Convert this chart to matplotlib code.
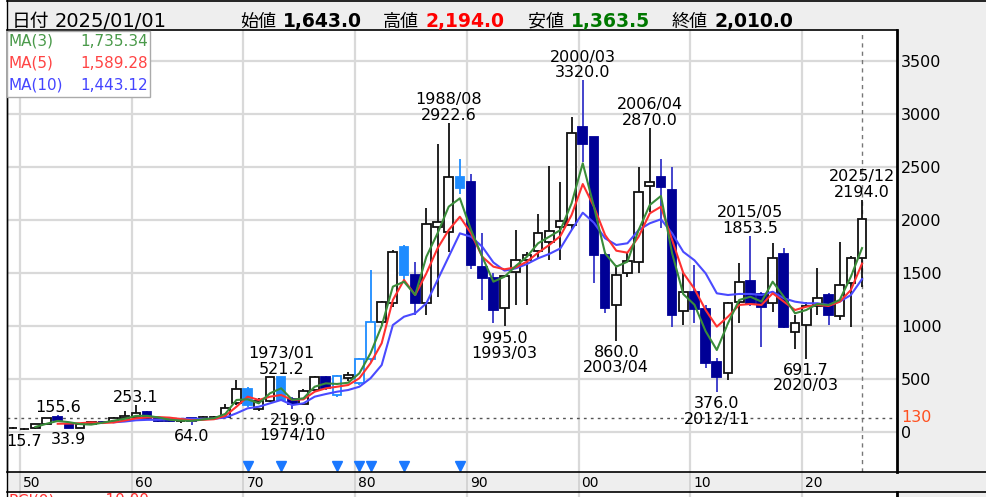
import numpy as np
import matplotlib.pyplot as plt
from matplotlib.lines import Line2D
from matplotlib.patches import Rectangle
from matplotlib.transforms import offset_copy, blended_transform_factory

plt.rcParams['font.family'] = ['DejaVu Sans', 'Noto Sans CJK JP']

nan = np.nan
years = np.arange(1949, 2026)

# yearly OHLC
opens = [35, 25, 32, 70, 136, 70, 36, 70, 95, 95,
         127, 142, 183, 127, 115, 100, 127, 117, 130, 142,
         268, 400, 212, 293, 521, 306, 262, 394, 514, 347,
         505, 457, 684, 1040, 1214, 1743, 1481, 1214, 1932, 1890,
         2410, 2357, 1560, 1450, 1166, 1507, 1623, 1711, 1796, 1938,
         1954, 2883, 2783, 1670, 1198, 1497, 1607, 2322, 2404, 2285,
         1144, 1323, 1157, 662, 552, 1229, 1424, 1302, 1214, 1677,
         945, 1008, 1188, 1292, 1096, 1403, 1643]
highs = [40, 35, 75, 130, 155.6, 80, 75, 100, 105, 135,
         196, 253.1, 200, 140, 140, 115, 130, 150, 150, 260,
         489, 420, 320, 520, 521.2, 330, 400, 530, 530, 540,
         560, 700, 1528, 1240, 1720, 1760, 1607, 2117, 2719, 2922.6,
         2575, 2433, 1875, 1500, 1480, 1906, 1700, 2055, 2511, 2363,
         2972, 3320, 2790, 1700, 1576, 1700, 2505, 2870, 2575, 2499,
         1500, 1576, 1200, 700, 1230, 1592, 1853.5, 1320, 1781, 1733,
         1100, 1230, 1544, 1310, 1796, 1660, 2194]
lows = [30, 15.7, 30, 65, 100, 33.9, 34, 65, 80, 90,
        120, 135, 115, 95, 90, 85, 64, 110, 120, 135,
        250, 230, 200, 280, 290, 219, 250, 380, 395, 330,
        480, 440, 660, 1000, 1180, 1403, 1103, 1103, 1276, 1700,
        2250, 1535, 1245, 1025, 995, 1198, 1198, 1632, 1623, 1623,
        1906, 2552, 1403, 1119, 860, 1465, 1497, 2079, 1922, 993,
        1008, 1025, 600, 376, 489, 1025, 1190, 803, 1134, 977,
        779, 691.7, 1100, 1008, 1060, 993, 1363.5]
closes = [38, 30, 70, 127, 110, 36, 70, 95, 90, 127,
          148, 174, 127, 105, 100, 105, 100, 142, 142, 221,
          400, 252, 293, 514, 300, 262, 388, 514, 410, 526,
          535, 684, 1040, 1229, 1701, 1481, 1214, 1963, 1985, 2410,
          2300, 1576, 1450, 1150, 1472, 1623, 1670, 1875, 1900, 1991,
          2826, 2719, 1670, 1166, 1481, 1616, 2263, 2363, 2310, 1103,
          1318, 1157, 647, 520, 1214, 1418, 1219, 1182, 1645, 987,
          1025, 1188, 1261, 1103, 1387, 1645, 2010]

ma3 = [nan, nan, 45, 75, 102, 90, 72, 67, 85, 104,
       122, 150, 150, 135, 113, 105, 102, 116, 128, 168,
       300, 306, 268, 363, 410, 300, 316, 425, 457, 451,
       463, 552, 741, 1000, 1371, 1418, 1292, 1654, 1875, 2127,
       2206, 1906, 1654, 1418, 1465, 1566, 1654, 1781, 1843, 1906,
       2159, 2537, 2127, 1686, 1560, 1607, 1906, 2143, 2228, 1686,
       1300, 1200, 950, 772, 1025, 1245, 1276, 1229, 1418, 1276,
       1119, 1150, 1207, 1198, 1245, 1465, 1735.34]
ma5 = [nan, nan, nan, nan, 75, 77, 80, 88, 82, 87,
       106, 126, 135, 138, 133, 120, 108, 112, 118, 150,
       236, 331, 300, 331, 347, 300, 306, 378, 410, 425,
       441, 505, 647, 836, 1245, 1434, 1292, 1497, 1733, 1906,
       2032, 1875, 1654, 1560, 1535, 1554, 1607, 1692, 1765, 1850,
       2048, 2341, 2127, 1859, 1711, 1692, 1843, 2064, 2127, 1812,
       1500, 1350, 1150, 993, 1087, 1198, 1207, 1198, 1308, 1229,
       1150, 1181, 1200, 1188, 1229, 1339, 1589.28]
ma10 = [nan, nan, nan, nan, nan, nan, nan, nan, nan, 89,
        96, 108, 112, 113, 117, 121, 122, 122, 123, 133,
        174, 221, 236, 268, 300, 252, 268, 331, 356, 378,
        394, 425, 505, 630, 1008, 1087, 1119, 1214, 1434, 1654,
        1875, 1843, 1749, 1600, 1522, 1544, 1585, 1639, 1680, 1733,
        1906, 2070, 1975, 1828, 1765, 1781, 1906, 1970, 2008, 1875,
        1700, 1620, 1497, 1308, 1292, 1302, 1302, 1292, 1323, 1261,
        1229, 1214, 1214, 1198, 1229, 1292, 1443.12]

# years marked with a triangle (price adjusted) - drawn in light blue
adjust_years = [1970, 1973, 1978, 1980, 1981, 1984, 1989]

# (year, text, side)
peak_labels = [(1950, '15.7', 'low'), (1953, '155.6', 'high'), (1954, '33.9', 'low'),
               (1960, '253.1', 'high'), (1965, '64.0', 'low'),
               (1973, '1973/01\n521.2', 'high'), (1974, '219.0\n1974/10', 'low'),
               (1988, '1988/08\n2922.6', 'high'), (1993, '995.0\n1993/03', 'low'),
               (2000, '2000/03\n3320.0', 'high'), (2003, '860.0\n2003/04', 'low'),
               (2006, '2006/04\n2870.0', 'high'), (2012, '376.0\n2012/11', 'low'),
               (2015, '2015/05\n1853.5', 'high'), (2020, '691.7\n2020/03', 'low'),
               (2025, '2025/12\n2194.0', 'high')]

grid_years = [1950, 1960, 1970, 1980, 1990, 2000, 2010, 2020]
grid_labels = ['50', '60', '70', '80', '90', '00', '10', '20']
price_ticks = [0, 500, 1000, 1500, 2000, 2500, 3000, 3500]
ref_price = 130

W, H = 987, 497
fig = plt.figure(figsize=(W / 100, H / 100), dpi=100)


def fx(px):
    return px / W


def fy(py):
    return 1 - py / H


# grey panels: header, right scale, date band
for (x0, y0, x1, y1) in [(7, 0, 987, 30), (897, 30, 987, 497), (7, 472, 987, 492)]:
    fig.patches.append(Rectangle((fx(x0), fy(y1)), fx(x1) - fx(x0), fy(y0) - fy(y1),
                                 transform=fig.transFigure, facecolor='#eeeeee',
                                 edgecolor='none', zorder=-5))
for yy in [0.5, 472, 492]:
    fig.add_artist(Line2D([fx(7), 1], [fy(yy), fy(yy)], color='black', lw=1.2,
                          transform=fig.transFigure))
fig.add_artist(Line2D([fx(7.5), fx(7.5)], [fy(0), 0], color='black', lw=1,
                      transform=fig.transFigure))

ax = fig.add_axes([fx(7), fy(472), fx(897) - fx(7), fy(30) - fy(472)])
ax.set_facecolor('white')
xmin, xmax = 1948.46, 2028.13
ax.set_xlim(xmin, xmax)
ax.set_ylim(-381, 3797)

gshift = 0.38  # grid lines sit a little left of the candle centres
for p in price_ticks:
    ax.axhline(p, color='#d9d9d9', lw=1.6, zorder=0)
for g in grid_years:
    ax.axvline(g - gshift, color='#d9d9d9', lw=1.6, zorder=0)
ax.axhline(ref_price, color='#555555', lw=1, ls=(0, (2, 3)), zorder=1)
ax.axvline(years[-1], color='#777777', lw=1, ls=(0, (3, 3)), zorder=1)

o = np.array(opens, float)
c = np.array(closes, float)
kinds = []
for yr, oo, cc in zip(years, o, c):
    up = cc >= oo
    if yr in adjust_years:
        kinds.append('B' if up else 'L')
    else:
        kinds.append('u' if up else 'd')

face = {'u': 'white', 'd': '#000096', 'L': '#1e8cff', 'B': 'white'}
edge = {'u': '#111111', 'd': '#000096', 'L': '#1e8cff', 'B': '#1e8cff'}
wick = {'u': '#111111', 'd': '#3535c8', 'L': '#1e8cff', 'B': '#1e8cff'}

ax.vlines(years, lows, highs, colors=[wick[k] for k in kinds], lw=1.3, zorder=2)
ax.bar(years, c - o, bottom=o, width=0.78, color=[face[k] for k in kinds],
       edgecolor=[edge[k] for k in kinds], linewidth=1.3, zorder=3)

ax.plot(years, ma10, color='#4a4aff', lw=1.5, zorder=4)
ax.plot(years, ma5, color='#ff3030', lw=1.5, zorder=4)
ax.plot(years, ma3, color='#3a8c3a', lw=1.5, zorder=4)

tri_tr = blended_transform_factory(ax.transData, ax.transAxes)
ax.plot(adjust_years, [0.014] * len(adjust_years), ls='none', marker='v', ms=7,
        color='#1a78ff', transform=tri_tr, zorder=5, clip_on=False)

for yr, txt, side in peak_labels:
    i = yr - years[0]
    if side == 'high':
        ax.annotate(txt, (yr, highs[i]), xytext=(0, 0), textcoords='offset points',
                    ha='center', va='bottom', fontsize=11.5, linespacing=1.05,
                    zorder=6, clip_on=True)
    else:
        ax.annotate(txt, (yr, lows[i]), xytext=(0, -3), textcoords='offset points',
                    ha='center', va='top', fontsize=11.5, linespacing=1.05,
                    zorder=6, clip_on=True)

ax.set_xticks([])
ax.yaxis.tick_right()
ax.set_yticks(price_ticks)
ax.tick_params(axis='y', length=0, pad=3, labelsize=11.5)
ax.text(1.005, ref_price, str(ref_price), color='#ff5020', fontsize=11.5,
        va='center', ha='left', transform=blended_transform_factory(ax.transAxes, ax.transData),
        clip_on=False)
for s in ax.spines.values():
    s.set_color('black')
ax.spines['right'].set_linewidth(2)
ax.spines['left'].set_linewidth(1)
ax.spines['top'].set_linewidth(1.2)
ax.spines['bottom'].set_visible(False)

# date band
axb = fig.add_axes([fx(7), fy(492), fx(897) - fx(7), fy(472) - fy(492)])
axb.set_xlim(xmin, xmax)
axb.set_ylim(0, 1)
axb.patch.set_alpha(0)
axb.axis('off')
lab_tr = offset_copy(axb.transData, fig=fig, x=3, y=0, units='dots')
for g, lab in zip(grid_years, grid_labels):
    axb.axvline(g - gshift, color='#d4d4d4', lw=1.4, zorder=0)
    axb.text(g - gshift, 0.45, lab, transform=lab_tr, fontsize=10, ha='left', va='center')

# top of the next (RCI) panel, only its first pixels are in view
axs = fig.add_axes([fx(7), 0, fx(897) - fx(7), fy(492)])
axs.set_xlim(xmin, xmax)
axs.axis('off')
for g in grid_years:
    axs.axvline(g - gshift, color='#d9d9d9', lw=1.6)
fig.text(fx(9), fy(493), 'RCI(9)', color='#ff3030', fontsize=11, va='top')
fig.text(fx(100), fy(493), '-10.00', color='#ff3030', fontsize=11, va='top')
fig.add_artist(Line2D([fx(897), fx(897)], [0, fy(492)], color='black', lw=2,
                      transform=fig.transFigure))

# header
hy = fy(27)
fig.text(fx(12), hy, '日付', fontsize=13.5, va='baseline')
fig.text(fx(55), hy, '2025/01/01', fontsize=14, va='baseline')
head = [(240, '始値', '1,643.0', 'black'), (383, '高値', '2,194.0', '#ff0000'),
        (528, '安値', '1,363.5', '#007800'), (672, '終値', '2,010.0', 'black')]
for x0, name, val, col in head:
    fig.text(fx(x0), hy, name, fontsize=13, va='baseline')
    fig.text(fx(x0 + 43), hy, val, fontsize=13.5, fontweight='bold', color=col, va='baseline')

# MA legend box
fig.patches.append(Rectangle((fx(7.5), fy(97)), fx(150) - fx(7.5), fy(31) - fy(97),
                             transform=fig.transFigure, facecolor='white',
                             edgecolor='#aaaaaa', lw=1, zorder=3))
legend = [('MA(3)', '1,735.34', '#4a9a4a', 41), ('MA(5)', '1,589.28', '#ff4444', 63),
          ('MA(10)', '1,443.12', '#4444ff', 85)]
for name, val, col, yy in legend:
    fig.text(fx(9), fy(yy), name, color=col, fontsize=11, va='center', zorder=4)
    fig.text(fx(148), fy(yy), val, color=col, fontsize=11, va='center', ha='right', zorder=4)

fig.savefig('out.png', dpi=100)
